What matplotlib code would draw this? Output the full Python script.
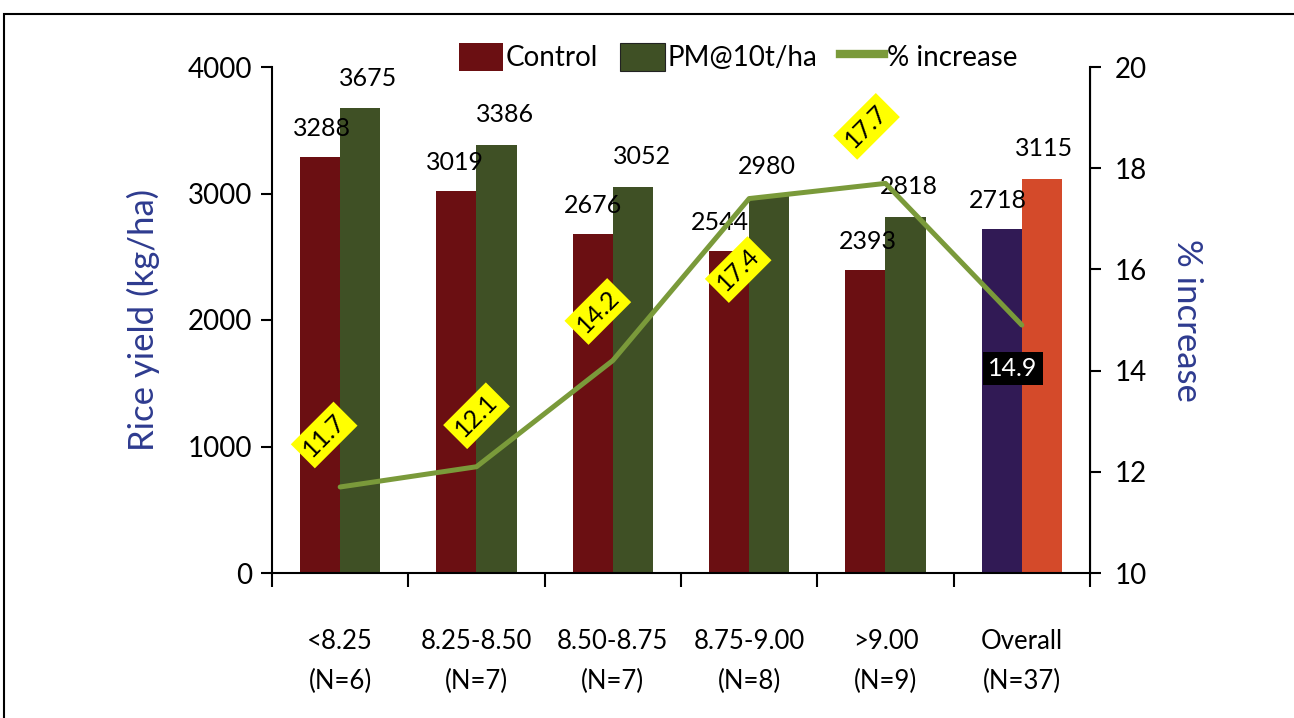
import matplotlib
matplotlib.use("Agg")
import matplotlib.pyplot as plt
import numpy as np
from matplotlib.patches import Rectangle, Patch
from matplotlib.lines import Line2D

plt.rcParams['font.family'] = ['Lato', 'DejaVu Sans']

# ── data ──────────────────────────────────────────────────────────────────────
categories = ["<8.25\n(N=6)", "8.25-8.50\n(N=7)", "8.50-8.75\n(N=7)",
              "8.75-9.00\n(N=8)", ">9.00\n(N=9)", "Overall\n(N=37)"]
control = [3288, 3019, 2676, 2544, 2393, 2718]
pm10 = [3675, 3386, 3052, 2980, 2818, 3115]
pct_increase = [11.7, 12.1, 14.2, 17.4, 17.7, 14.9]

# ── colours ───────────────────────────────────────────────────────────────────
C_CTRL = "#6B0F12"
C_PM = "#3F5025"
C_CTRL_ALL = "#311A55"
C_PM_ALL = "#D44A2A"
C_LINE = "#7A9A3A"
C_AXLAB = "#2E3B8F"

ctrl_cols = [C_CTRL] * 5 + [C_CTRL_ALL]
pm_cols = [C_PM] * 5 + [C_PM_ALL]

fig = plt.figure(figsize=(12.94, 7.18), dpi=100)
fig.patch.set_facecolor("white")
ax = fig.add_axes([272 / 1294, 1 - 573 / 718, (1090 - 272) / 1294, (573 - 67) / 718])
ax2 = ax.twinx()

x = np.arange(len(categories))
bw = 0.295
b1 = ax.bar(x - bw / 2, control, bw, color=ctrl_cols, zorder=2)
b2 = ax.bar(x + bw / 2, pm10, bw, color=pm_cols, zorder=2)

ax.set_xlim(-0.5, len(categories) - 0.5)
ax.set_ylim(0, 4000)
ax.set_yticks([0, 1000, 2000, 3000, 4000])
ax.tick_params(axis="y", labelsize=20, length=8, width=1.5, direction="out", pad=6)

# category boundary ticks, labels at centres
ax.set_xticks(np.arange(len(categories) + 1) - 0.5)
ax.set_xticklabels([])
ax.tick_params(axis="x", which="major", length=10, width=1.5, direction="out")
ax.set_xticks(x, minor=True)
ax.set_xticklabels(categories, minor=True, fontsize=18.5, linespacing=1.75)
ax.tick_params(axis="x", which="minor", length=0, pad=40)

ax.spines["top"].set_visible(False)
ax2.spines["top"].set_visible(False)
for s in ["left", "bottom"]:
    ax.spines[s].set_linewidth(1.5)
ax2.spines["right"].set_linewidth(1.5)
ax2.spines["left"].set_visible(False)
ax2.spines["bottom"].set_visible(False)

ax.set_ylabel("Rice yield (kg/ha)", fontsize=25, color=C_AXLAB, labelpad=20)

# value labels
ctrl_dx = [2, -1, 0, -9, 2, -4]
pm_dx = [8, 8, 9, -2, 3, 2]
for i, (r, v) in enumerate(zip(b1, control)):
    ax.annotate(f"{v}", (r.get_x() + r.get_width() / 2, v), xytext=(ctrl_dx[i], 29),
                textcoords="offset pixels", ha="center", va="center", fontsize=18)
for i, (r, v) in enumerate(zip(b2, pm10)):
    ax.annotate(f"{v}", (r.get_x() + r.get_width() / 2, v), xytext=(pm_dx[i], 30),
                textcoords="offset pixels", ha="center", va="center", fontsize=18)

# % increase line on right axis
ax2.plot(x, pct_increase, color=C_LINE, lw=3.6, solid_capstyle="round", zorder=3)
ax2.set_ylim(10, 20)
ax2.set_yticks([10, 12, 14, 16, 18, 20])
ax2.tick_params(axis="y", labelsize=20, length=8, width=1.5, direction="out", pad=10)
ax2.set_ylabel("% increase", fontsize=25, color=C_AXLAB, rotation=270, labelpad=40)

lab_off = [(-16, 52), (0, 51), (-15, 49), (-11, -71), (-19, 57), (-9, -43)]
for i, v in enumerate(pct_increase):
    dx, dy = lab_off[i]
    if i == len(pct_increase) - 1:
        ax2.annotate(f"{v}", (x[i], v), xytext=(dx, dy), textcoords="offset pixels",
                     ha="center", va="center", fontsize=18, color="white",
                     bbox=dict(boxstyle="square,pad=0.2", fc="black", ec="none"), zorder=5)
    else:
        ax2.annotate(f"{v}", (x[i], v), xytext=(dx, dy), textcoords="offset pixels",
                     ha="center", va="center", fontsize=18, rotation=45,
                     bbox=dict(boxstyle="square,pad=0.22", fc="#FFFF00", ec="none"), zorder=5)

# legend
handles = [Patch(facecolor=C_CTRL, edgecolor="none"),
           Patch(facecolor=C_PM, edgecolor="#222222", lw=0.8),
           Line2D([0], [0], color=C_LINE, lw=6)]
fig.legend(handles, ["Control", "PM@10t/ha", "% increase"], loc="center",
           bbox_to_anchor=(738 / 1294, 1 - 57 / 718), ncol=3, frameon=False,
           fontsize=20, handlelength=1.6, handleheight=1.2, handletextpad=0.1,
           columnspacing=0.8, borderaxespad=0)

# outer frame
fig.add_artist(Rectangle((4 / 1294, -0.01), 1.2, 1 - 14 / 718 + 0.01,
                         transform=fig.transFigure, fill=False, ec="black", lw=1.5))

fig.savefig("out.png", dpi=100, facecolor="white")
